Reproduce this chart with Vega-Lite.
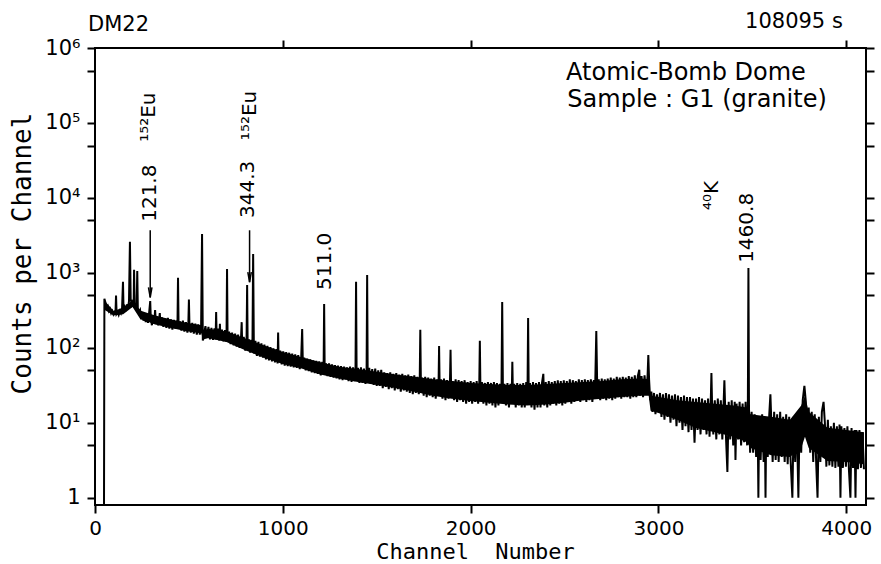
{
"$schema": "https://vega.github.io/schema/vega-lite/v6.json",
"width": 771, "height": 457,
"autosize": {"type": "none"},
"padding": {"left": 95, "top": 48, "right": 15, "bottom": 59},
"background": "white",
"config": {
 "view": {"stroke": "black", "strokeWidth": 2},
 "axis": {"domain": false, "grid": false, "tickColor": "black", "tickWidth": 2, "tickSize": 8, "labelColor": "black", "labelFont": "DejaVu Sans", "labelFontSize": 21, "titleColor": "black", "titleFont": "DejaVu Sans Mono", "titleFontSize": 24, "titleFontWeight": "normal", "labelFlush": false, "labelOverlap": false, "labelBound": false}
},
"datasets": {
 "core": [
{"c":52,"lo":320,"hi":420},{"c":100,"lo":270,"hi":310},{"c":150,"lo":280,"hi":345},{"c":200,"lo":350,"hi":430},{"c":240,"lo":245,"hi":315},{"c":320,"lo":205,"hi":270},{"c":400,"lo":185,"hi":240},{"c":480,"lo":168,"hi":218},{"c":566,"lo":157,"hi":200},{"c":575,"lo":128,"hi":158},{"c":600,"lo":135,"hi":180},{"c":700,"lo":120,"hi":165},{"c":800,"lo":93,"hi":133},{"c":900,"lo":74,"hi":107},{"c":1000,"lo":61,"hi":88},{"c":1100,"lo":53,"hi":75},{"c":1200,"lo":44,"hi":64},{"c":1300,"lo":39,"hi":56},{"c":1400,"lo":35,"hi":52},{"c":1500,"lo":32,"hi":48},{"c":1600,"lo":29,"hi":44},{"c":1700,"lo":26,"hi":41},{"c":1800,"lo":23,"hi":38},{"c":1900,"lo":21,"hi":36},{"c":2000,"lo":19.5,"hi":34},{"c":2100,"lo":18.5,"hi":33},{"c":2200,"lo":17.5,"hi":32},{"c":2300,"lo":17,"hi":32},{"c":2400,"lo":17.5,"hi":33},{"c":2500,"lo":18.5,"hi":34},{"c":2600,"lo":20,"hi":35},{"c":2700,"lo":21,"hi":36},{"c":2800,"lo":22,"hi":38},{"c":2900,"lo":23,"hi":39},{"c":2948,"lo":23,"hi":38},{"c":2958,"lo":14.5,"hi":23},{"c":3000,"lo":13.5,"hi":22},{"c":3100,"lo":11,"hi":20},{"c":3200,"lo":8.5,"hi":19},{"c":3300,"lo":7.5,"hi":18},{"c":3400,"lo":6.5,"hi":17},{"c":3470,"lo":5.5,"hi":16},{"c":3490,"lo":4.6,"hi":13},{"c":3600,"lo":3.7,"hi":12},{"c":3700,"lo":3.5,"hi":11},{"c":3760,"lo":4.6,"hi":17},{"c":3780,"lo":6.5,"hi":23},{"c":3800,"lo":4.6,"hi":14},{"c":3900,"lo":3.1,"hi":8.6},{"c":4000,"lo":3,"hi":8},{"c":4094,"lo":2.8,"hi":7.5}
 ],
 "spectrum": [
{"c":48,"n":0.8},{"c":50,"n":450},{"c":56,"n":400},{"c":62,"n":340},{"c":68,"n":360},{"c":74,"n":310},{"c":80,"n":330},{"c":86,"n":290},{"c":92,"n":310},{"c":98,"n":280},{"c":104,"n":300},{"c":109,"n":290},{"c":112,"n":500},{"c":115,"n":285},{"c":120,"n":300},{"c":126,"n":275},{"c":132,"n":310},{"c":138,"n":290},{"c":144,"n":330},{"c":149,"n":760},{"c":152,"n":320},{"c":158,"n":350},{"c":164,"n":310},{"c":170,"n":380},{"c":176,"n":340},{"c":181,"n":420},{"c":186,"n":2600},{"c":190,"n":450},{"c":196,"n":380},{"c":202,"n":420},{"c":206,"n":390},{"c":208,"n":1100},{"c":211,"n":400},{"c":216,"n":360},{"c":222,"n":380},{"c":225,"n":1060},{"c":228,"n":340},{"c":234,"n":300},{"c":240,"n":320},{"c":246,"n":240},{"c":252,"n":290},{"c":258,"n":230},{"c":264,"n":280},{"c":270,"n":220},{"c":276,"n":270},{"c":282,"n":215},{"c":288,"n":290},{"c":294,"n":420},{"c":297,"n":250},{"c":303,"n":200},{"c":309,"n":270},{"c":315,"n":210},{"c":320,"n":320},{"c":324,"n":220},{"c":330,"n":260},{"c":336,"n":200},{"c":342,"n":250},{"c":345,"n":290},{"c":348,"n":210},{"c":356,"n":255},{"c":364,"n":190},{"c":372,"n":245},{"c":380,"n":185},{"c":388,"n":250},{"c":396,"n":180},{"c":404,"n":240},{"c":412,"n":175},{"c":420,"n":235},{"c":428,"n":180},{"c":436,"n":230},{"c":439,"n":190},{"c":442,"n":860},{"c":445,"n":200},{"c":452,"n":225},{"c":460,"n":170},{"c":468,"n":230},{"c":476,"n":165},{"c":484,"n":220},{"c":492,"n":160},{"c":497,"n":210},{"c":500,"n":440},{"c":503,"n":200},{"c":510,"n":160},{"c":518,"n":215},{"c":526,"n":155},{"c":534,"n":210},{"c":542,"n":150},{"c":550,"n":205},{"c":558,"n":150},{"c":565,"n":200},{"c":570,"n":3300},{"c":574,"n":125},{"c":580,"n":150},{"c":588,"n":195},{"c":596,"n":135},{"c":604,"n":190},{"c":612,"n":130},{"c":620,"n":185},{"c":628,"n":128},{"c":636,"n":182},{"c":642,"n":130},{"c":645,"n":300},{"c":648,"n":130},{"c":656,"n":180},{"c":662,"n":125},{"c":665,"n":210},{"c":668,"n":130},{"c":676,"n":175},{"c":684,"n":122},{"c":692,"n":172},{"c":700,"n":120},{"c":703,"n":1130},{"c":706,"n":125},{"c":714,"n":165},{"c":722,"n":112},{"c":730,"n":160},{"c":738,"n":108},{"c":746,"n":155},{"c":754,"n":104},{"c":762,"n":150},{"c":770,"n":100},{"c":778,"n":145},{"c":781,"n":220},{"c":784,"n":100},{"c":792,"n":140},{"c":800,"n":92},{"c":807,"n":135},{"c":810,"n":690},{"c":813,"n":92},{"c":820,"n":130},{"c":826,"n":86},{"c":832,"n":128},{"c":838,"n":90},{"c":842,"n":1790},{"c":846,"n":84},{"c":854,"n":124},{"c":862,"n":78},{"c":870,"n":120},{"c":878,"n":76},{"c":886,"n":115},{"c":894,"n":74},{"c":902,"n":110},{"c":910,"n":70},{"c":918,"n":106},{"c":926,"n":68},{"c":934,"n":102},{"c":942,"n":66},{"c":950,"n":98},{"c":958,"n":64},{"c":966,"n":96},{"c":972,"n":62},{"c":975,"n":160},{"c":978,"n":64},{"c":986,"n":92},{"c":994,"n":60},{"c":1002,"n":90},{"c":1010,"n":58},{"c":1018,"n":88},{"c":1026,"n":57},{"c":1034,"n":86},{"c":1042,"n":56},{"c":1050,"n":84},{"c":1058,"n":55},{"c":1066,"n":82},{"c":1074,"n":54},{"c":1082,"n":80},{"c":1090,"n":52},{"c":1098,"n":76},{"c":1103,"n":178},{"c":1107,"n":54},{"c":1114,"n":74},{"c":1122,"n":50},{"c":1130,"n":72},{"c":1138,"n":49},{"c":1146,"n":70},{"c":1154,"n":47},{"c":1162,"n":68},{"c":1170,"n":46},{"c":1178,"n":67},{"c":1186,"n":45},{"c":1194,"n":66},{"c":1202,"n":43},{"c":1210,"n":65},{"c":1217,"n":48},{"c":1220,"n":385},{"c":1223,"n":46},{"c":1230,"n":62},{"c":1238,"n":42},{"c":1246,"n":62},{"c":1254,"n":41},{"c":1262,"n":60},{"c":1270,"n":40},{"c":1278,"n":59},{"c":1286,"n":39},{"c":1294,"n":58},{"c":1302,"n":38},{"c":1310,"n":57},{"c":1318,"n":37},{"c":1326,"n":56},{"c":1334,"n":38},{"c":1342,"n":55},{"c":1350,"n":36},{"c":1358,"n":56},{"c":1366,"n":35},{"c":1374,"n":55},{"c":1382,"n":36},{"c":1387,"n":52},{"c":1390,"n":760},{"c":1393,"n":40},{"c":1400,"n":54},{"c":1408,"n":34},{"c":1416,"n":55},{"c":1424,"n":34},{"c":1432,"n":53},{"c":1440,"n":33},{"c":1446,"n":50},{"c":1449,"n":935},{"c":1452,"n":38},{"c":1460,"n":54},{"c":1468,"n":33},{"c":1476,"n":52},{"c":1484,"n":32},{"c":1492,"n":53},{"c":1500,"n":31},{"c":1508,"n":50},{"c":1516,"n":31},{"c":1524,"n":51},{"c":1532,"n":29},{"c":1540,"n":47},{"c":1548,"n":30},{"c":1556,"n":46},{"c":1564,"n":28},{"c":1572,"n":47},{"c":1580,"n":29},{"c":1588,"n":45},{"c":1596,"n":27},{"c":1604,"n":46},{"c":1612,"n":28},{"c":1620,"n":44},{"c":1628,"n":26},{"c":1636,"n":45},{"c":1644,"n":27},{"c":1652,"n":43},{"c":1660,"n":26},{"c":1668,"n":44},{"c":1676,"n":25},{"c":1684,"n":42},{"c":1692,"n":24},{"c":1700,"n":43},{"c":1708,"n":25},{"c":1716,"n":41},{"c":1724,"n":24},{"c":1729,"n":40},{"c":1732,"n":174},{"c":1735,"n":36},{"c":1742,"n":40},{"c":1750,"n":23},{"c":1758,"n":41},{"c":1766,"n":22},{"c":1774,"n":40},{"c":1782,"n":23},{"c":1790,"n":39},{"c":1798,"n":22},{"c":1806,"n":40},{"c":1814,"n":21},{"c":1822,"n":38},{"c":1829,"n":30},{"c":1832,"n":106},{"c":1835,"n":30},{"c":1842,"n":38},{"c":1850,"n":21},{"c":1858,"n":39},{"c":1866,"n":20},{"c":1874,"n":37},{"c":1882,"n":21},{"c":1890,"n":36},{"c":1893,"n":94},{"c":1896,"n":30},{"c":1904,"n":36},{"c":1912,"n":20},{"c":1920,"n":38},{"c":1928,"n":19},{"c":1936,"n":37},{"c":1944,"n":20},{"c":1952,"n":36},{"c":1960,"n":19},{"c":1968,"n":37},{"c":1976,"n":18},{"c":1984,"n":35},{"c":1992,"n":19},{"c":2000,"n":36},{"c":2008,"n":18},{"c":2016,"n":35},{"c":2024,"n":19},{"c":2032,"n":36},{"c":2040,"n":18},{"c":2046,"n":34},{"c":2049,"n":124},{"c":2052,"n":30},{"c":2060,"n":35},{"c":2068,"n":18},{"c":2076,"n":34},{"c":2084,"n":17},{"c":2092,"n":35},{"c":2100,"n":18},{"c":2108,"n":34},{"c":2116,"n":17},{"c":2124,"n":35},{"c":2132,"n":16},{"c":2140,"n":34},{"c":2148,"n":17},{"c":2156,"n":33},{"c":2164,"n":25},{"c":2168,"n":410},{"c":2172,"n":25},{"c":2180,"n":33},{"c":2188,"n":17},{"c":2196,"n":34},{"c":2204,"n":16},{"c":2212,"n":33},{"c":2219,"n":25},{"c":2222,"n":65},{"c":2225,"n":25},{"c":2232,"n":33},{"c":2240,"n":16},{"c":2248,"n":34},{"c":2256,"n":17},{"c":2264,"n":33},{"c":2272,"n":16},{"c":2280,"n":34},{"c":2288,"n":16},{"c":2296,"n":35},{"c":2303,"n":30},{"c":2306,"n":250},{"c":2309,"n":30},{"c":2316,"n":34},{"c":2324,"n":16},{"c":2332,"n":35},{"c":2340,"n":15},{"c":2348,"n":34},{"c":2356,"n":16},{"c":2364,"n":35},{"c":2372,"n":16},{"c":2380,"n":34},{"c":2387,"n":45},{"c":2392,"n":17},{"c":2400,"n":35},{"c":2408,"n":16},{"c":2416,"n":36},{"c":2424,"n":17},{"c":2432,"n":35},{"c":2440,"n":18},{"c":2448,"n":36},{"c":2456,"n":17},{"c":2464,"n":37},{"c":2472,"n":18},{"c":2480,"n":36},{"c":2488,"n":17},{"c":2496,"n":37},{"c":2504,"n":18},{"c":2512,"n":36},{"c":2520,"n":19},{"c":2528,"n":38},{"c":2536,"n":18},{"c":2544,"n":37},{"c":2552,"n":19},{"c":2560,"n":36},{"c":2568,"n":20},{"c":2576,"n":38},{"c":2584,"n":19},{"c":2592,"n":37},{"c":2600,"n":20},{"c":2608,"n":38},{"c":2616,"n":19},{"c":2624,"n":37},{"c":2632,"n":20},{"c":2640,"n":38},{"c":2648,"n":19},{"c":2656,"n":37},{"c":2663,"n":30},{"c":2669,"n":168},{"c":2674,"n":30},{"c":2682,"n":38},{"c":2690,"n":20},{"c":2698,"n":39},{"c":2706,"n":21},{"c":2714,"n":38},{"c":2722,"n":20},{"c":2730,"n":39},{"c":2738,"n":21},{"c":2746,"n":40},{"c":2754,"n":20},{"c":2762,"n":39},{"c":2770,"n":21},{"c":2778,"n":41},{"c":2786,"n":22},{"c":2794,"n":40},{"c":2802,"n":21},{"c":2810,"n":41},{"c":2818,"n":22},{"c":2826,"n":40},{"c":2834,"n":22},{"c":2842,"n":42},{"c":2850,"n":21},{"c":2858,"n":41},{"c":2866,"n":22},{"c":2874,"n":43},{"c":2882,"n":22},{"c":2890,"n":42},{"c":2898,"n":51},{"c":2902,"n":23},{"c":2910,"n":42},{"c":2918,"n":22},{"c":2926,"n":43},{"c":2934,"n":24},{"c":2942,"n":42},{"c":2946,"n":80},{"c":2950,"n":38},{"c":2956,"n":20},{"c":2962,"n":26},{"c":2968,"n":14},{"c":2976,"n":25},{"c":2984,"n":13},{"c":2992,"n":24},{"c":3000,"n":14},{"c":3008,"n":25},{"c":3016,"n":12},{"c":3024,"n":24},{"c":3032,"n":11},{"c":3040,"n":25},{"c":3048,"n":12},{"c":3056,"n":24},{"c":3064,"n":10},{"c":3072,"n":23},{"c":3080,"n":11},{"c":3088,"n":24},{"c":3096,"n":9},{"c":3104,"n":23},{"c":3112,"n":10},{"c":3120,"n":22},{"c":3128,"n":8},{"c":3136,"n":23},{"c":3144,"n":9},{"c":3152,"n":22},{"c":3160,"n":7.5},{"c":3168,"n":22},{"c":3176,"n":8},{"c":3184,"n":21},{"c":3192,"n":5.4},{"c":3200,"n":21},{"c":3208,"n":8},{"c":3216,"n":22},{"c":3224,"n":7},{"c":3232,"n":21},{"c":3240,"n":8},{"c":3248,"n":20},{"c":3256,"n":7},{"c":3264,"n":21},{"c":3272,"n":6.5},{"c":3279,"n":22},{"c":3282,"n":46},{"c":3285,"n":20},{"c":3292,"n":7},{"c":3300,"n":20},{"c":3308,"n":6},{"c":3316,"n":21},{"c":3324,"n":7},{"c":3332,"n":20},{"c":3340,"n":6},{"c":3348,"n":22},{"c":3351,"n":37},{"c":3354,"n":20},{"c":3360,"n":6},{"c":3367,"n":2.2},{"c":3374,"n":19},{"c":3382,"n":6},{"c":3390,"n":20},{"c":3398,"n":5},{"c":3406,"n":19},{"c":3410,"n":3.2},{"c":3416,"n":18},{"c":3424,"n":6},{"c":3432,"n":19},{"c":3440,"n":5},{"c":3448,"n":18},{"c":3456,"n":5.5},{"c":3464,"n":19},{"c":3472,"n":5},{"c":3476,"n":18},{"c":3479,"n":1160},{"c":3482,"n":16},{"c":3488,"n":4},{"c":3496,"n":14},{"c":3504,"n":4},{"c":3512,"n":13},{"c":3520,"n":3.5},{"c":3528,"n":12},{"c":3532,"n":1},{"c":3536,"n":12},{"c":3544,"n":3.2},{"c":3552,"n":13},{"c":3560,"n":3},{"c":3566,"n":12},{"c":3570,"n":1},{"c":3574,"n":11},{"c":3582,"n":3.5},{"c":3590,"n":13},{"c":3596,"n":24},{"c":3600,"n":12},{"c":3608,"n":3},{"c":3616,"n":14},{"c":3624,"n":3.2},{"c":3632,"n":13},{"c":3640,"n":3},{"c":3648,"n":14},{"c":3656,"n":3.5},{"c":3664,"n":12},{"c":3672,"n":3},{"c":3680,"n":13},{"c":3688,"n":2.8},{"c":3696,"n":12},{"c":3704,"n":3},{"c":3713,"n":1},{"c":3720,"n":12},{"c":3728,"n":3},{"c":3736,"n":13},{"c":3745,"n":1},{"c":3752,"n":14},{"c":3760,"n":4},{"c":3768,"n":20},{"c":3777,"n":31},{"c":3784,"n":20},{"c":3792,"n":6},{"c":3800,"n":16},{"c":3808,"n":4},{"c":3816,"n":14},{"c":3824,"n":3},{"c":3832,"n":13},{"c":3840,"n":2.8},{"c":3847,"n":1},{"c":3854,"n":12},{"c":3862,"n":3},{"c":3870,"n":14},{"c":3879,"n":19},{"c":3886,"n":10},{"c":3894,"n":2.6},{"c":3902,"n":11},{"c":3910,"n":2.7},{"c":3918,"n":9},{"c":3926,"n":2.6},{"c":3934,"n":10},{"c":3942,"n":2.5},{"c":3950,"n":9},{"c":3958,"n":2.6},{"c":3964,"n":9.5},{"c":3969,"n":1},{"c":3974,"n":9},{"c":3982,"n":2.5},{"c":3990,"n":8.5},{"c":3998,"n":2.6},{"c":4006,"n":9},{"c":4014,"n":2.4},{"c":4022,"n":1},{"c":4028,"n":8.5},{"c":4036,"n":2.5},{"c":4044,"n":8},{"c":4049,"n":1},{"c":4054,"n":8},{"c":4062,"n":2.4},{"c":4070,"n":8},{"c":4078,"n":2.5},{"c":4086,"n":7.5},{"c":4094,"n":2.4}
 ],
 "arrows": [{"c": 294, "n": 3700, "n2": 470}, {"c": 823, "n": 3700, "n2": 750}],
 "vlabels": [
  {"c": 293, "n": 4800, "t": "121.8"},
  {"c": 815, "n": 5400, "t": "344.3"},
  {"c": 287, "n": 56000, "t": "\u00b9\u2075\u00b2Eu"},
  {"c": 826, "n": 59000, "t": "\u00b9\u2075\u00b2Eu"},
  {"c": 1225, "n": 590, "t": "511.0"},
  {"c": 3285, "n": 6900, "t": "\u2074\u2070K"},
  {"c": 3474, "n": 1360, "t": "1460.8"}
 ],
 "toplabels": [
  {"c": -37, "n": 2030000, "t": "DM22"},
  {"c": 3461, "n": 2200000, "t": "108095 s"}
 ],
 "boxlabels": [
  {"c": 2508, "n": 464000, "t": "Atomic-Bomb Dome"},
  {"c": 2515, "n": 200000, "t": "Sample : G1 (granite)"}
 ]
},
"resolve": {"axis": {"x": "independent", "y": "independent"}},
"layer": [
 {
  "data": {"name": "spectrum"},
  "mark": {"type": "line", "color": "black", "strokeWidth": 2, "strokeJoin": "miter", "clip": true},
  "encoding": {
   "x": {"field": "c", "type": "quantitative", "scale": {"domain": [0, 4105], "nice": false, "zero": false},
         "axis": {"orient": "bottom", "values": [0, 1000, 2000, 3000, 4000], "format": "d", "title": "Channel\u00a0 Number", "labelFontSize": 20, "labelPadding": 5, "titleFontSize": 22, "titleY": 53, "titleX": 380, "titleBaseline": "alphabetic"}},
   "y": {"field": "n", "type": "quantitative", "scale": {"type": "log", "domain": [0.8, 1000000], "nice": false},
         "axis": {"orient": "left", "values": [1, 5, 10, 50, 100, 500, 1000, 5000, 10000, 50000, 100000, 500000, 1000000],
                  "labelExpr": "datum.value == 1 ? '1\u00a0\u00a0\u00a0\u00a0' : datum.value == 10 ? '10\u00b9' : datum.value == 100 ? '10\u00b2' : datum.value == 1000 ? '10\u00b3' : datum.value == 10000 ? '10\u2074' : datum.value == 100000 ? '10\u2075' : datum.value == 1000000 ? '10\u2076' : ''",
                  "title": "Counts per Channel", "labelPadding": 7, "titlePadding": 9, "titleFontSize": 26, "titleY": 205}}
  }
 },
 {
  "data": {"name": "core"},
  "mark": {"type": "area", "color": "black", "opacity": 1, "clip": true},
  "encoding": {
   "x": {"field": "c", "type": "quantitative", "axis": null},
   "y": {"field": "lo", "type": "quantitative", "axis": null},
   "y2": {"field": "hi"}
  }
 },
 {
  "data": {"name": "arrows"},
  "mark": {"type": "rule", "color": "black", "strokeWidth": 1.5},
  "encoding": {
   "x": {"field": "c", "type": "quantitative", "axis": {"orient": "top", "values": [1000, 2000, 3000, 4000], "labels": false, "title": null}},
   "y": {"field": "n", "type": "quantitative", "axis": {"orient": "right", "values": [1, 5, 10, 50, 100, 500, 1000, 5000, 10000, 50000, 100000, 500000, 1000000], "labels": false, "title": null}},
   "y2": {"field": "n2"}
  }
 },
 {
  "data": {"name": "arrows"},
  "mark": {"type": "point", "shape": "M-0.35,-2L0,0L0.35,-2", "filled": false, "stroke": "black", "strokeWidth": 1.5, "size": 100, "opacity": 1},
  "encoding": {
   "x": {"field": "c", "type": "quantitative", "axis": null},
   "y": {"field": "n2", "type": "quantitative", "axis": null}
  }
 },
 {
  "data": {"name": "vlabels"},
  "mark": {"type": "text", "angle": 270, "align": "left", "baseline": "middle", "font": "DejaVu Sans", "fontSize": 20, "color": "black"},
  "encoding": {
   "x": {"field": "c", "type": "quantitative", "axis": null},
   "y": {"field": "n", "type": "quantitative", "axis": null},
   "text": {"field": "t"}
  }
 },
 {
  "data": {"name": "toplabels"},
  "mark": {"type": "text", "align": "left", "baseline": "middle", "font": "DejaVu Sans", "fontSize": 21, "color": "black"},
  "encoding": {
   "x": {"field": "c", "type": "quantitative", "axis": null},
   "y": {"field": "n", "type": "quantitative", "axis": null},
   "text": {"field": "t"}
  }
 },
 {
  "data": {"name": "boxlabels"},
  "mark": {"type": "text", "align": "left", "baseline": "middle", "font": "DejaVu Sans", "fontSize": 24, "color": "black"},
  "encoding": {
   "x": {"field": "c", "type": "quantitative", "axis": null},
   "y": {"field": "n", "type": "quantitative", "axis": null},
   "text": {"field": "t"}
  }
 }
]
}
